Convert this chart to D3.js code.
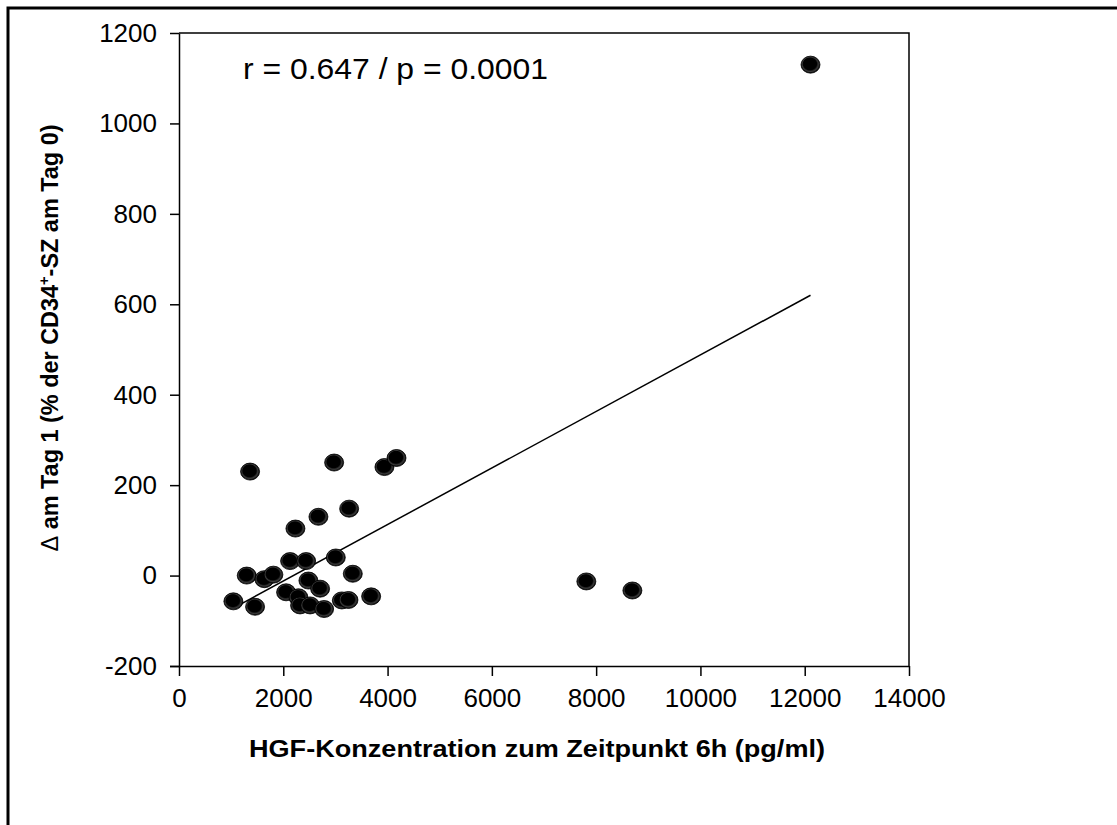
<!DOCTYPE html>
<html>
<head>
<meta charset="utf-8">
<script src="https://cdn.jsdelivr.net/npm/d3@7"></script>
<style>
  body { margin: 0; background: #fff; }
  svg text { font-family: "Liberation Sans", Arial, sans-serif; fill: #000; }
  .axis path, .axis line { stroke: #000; stroke-width: 1.5px; }
  .axis text { font-size: 26px; font-family: "Liberation Sans", Arial, sans-serif; }
</style>
</head>
<body>
<div id="chart"></div>
<script>
// values
const hgf = [1363, 2975, 3940, 4171, 3263, 2674, 2233, 2131, 2438, 3007,
  1299, 1637, 1810, 3333, 2482, 1043, 1459, 2054, 2706, 2290,
  2322, 2514, 2783, 3123, 3250, 3685, 7812, 8695, 12111];
const delta = [230, 250, 240, 260, 148, 130, 104, 32, 32, 40,
  0, -8, 2, 4, -11, -57, -69, -37, -29, -48,
  -66, -66, -74, -55, -54, -46, -13, -33, 1130];

// regression line end points
const fitX = [1043, 12111];
const fitY = [-72, 620];

const xTicks = [0, 2000, 4000, 6000, 8000, 10000, 12000, 14000];
const yTicks = [-200, 0, 200, 400, 600, 800, 1000, 1200];

const statText = "r = 0.647 / p = 0.0001";

const svgWidth = 1117;
const svgHeight = 825;
const margin = { top: 33, right: 208, bottom: 159, left: 179 };
const width = svgWidth - margin.left - margin.right;
const height = svgHeight - margin.top - margin.bottom;

const svg = d3.select("#chart")
  .append("svg")
  .attr("width", svgWidth)
  .attr("height", svgHeight);

svg.append("rect").attr("width", svgWidth).attr("height", svgHeight).attr("fill", "#fff");

// outer frame (top + left only)
svg.append("path")
  .attr("d", `M8,${svgHeight} L8,8 L${svgWidth},8`)
  .attr("fill", "none")
  .attr("stroke", "#000")
  .attr("stroke-width", 3);

const defs = svg.append("defs");
const grad = defs.append("radialGradient")
  .attr("id", "dot")
  .attr("cx", "50%").attr("cy", "50%").attr("r", "50%")
  .attr("fx", "40%").attr("fy", "35%");
grad.append("stop").attr("offset", "0%").attr("stop-color", "#000");
grad.append("stop").attr("offset", "70%").attr("stop-color", "#000");
grad.append("stop").attr("offset", "85%").attr("stop-color", "#3a3a3a");
grad.append("stop").attr("offset", "100%").attr("stop-color", "#000");

const chartGroup = svg.append("g")
  .attr("transform", `translate(${margin.left}, ${margin.top})`);

const x = d3.scaleLinear().domain([0, 14000]).range([0, width]);
const y = d3.scaleLinear().domain([-200, 1200]).range([height, 0]);

// plot box top + right
chartGroup.append("path")
  .attr("d", `M0,0 L${width},0 L${width},${height}`)
  .attr("fill", "none")
  .attr("stroke", "#000")
  .attr("stroke-width", 1.5);

const xAxis = chartGroup.append("g")
  .classed("axis", true)
  .attr("transform", `translate(0, ${height})`)
  .call(d3.axisBottom(x).tickValues(xTicks).tickSize(10).tickSizeOuter(0).tickPadding(13).tickFormat(d => String(d)));

const yAxis = chartGroup.append("g")
  .classed("axis", true)
  .call(d3.axisLeft(y).tickValues(yTicks).tickSize(9).tickSizeOuter(0).tickPadding(13).tickFormat(d => String(d)));

// extend x axis line left to meet the -200 tick
xAxis.select(".domain").attr("d", `M-9,0.5H${width}`);

// regression line
chartGroup.append("line")
  .attr("x1", x(fitX[0])).attr("y1", y(fitY[0]))
  .attr("x2", x(fitX[1])).attr("y2", y(fitY[1]))
  .attr("stroke", "#000")
  .attr("stroke-width", 1.5);

// points
chartGroup.selectAll(".pt")
  .data(hgf.map((d, i) => ({ hgf: d, delta: delta[i] })))
  .enter()
  .append("ellipse")
  .classed("pt", true)
  .attr("cx", d => x(d.hgf))
  .attr("cy", d => y(d.delta))
  .attr("rx", 9.5)
  .attr("ry", 8.5)
  .attr("fill", "url(#dot)")
  .attr("stroke", "#000")
  .attr("stroke-width", 0.8);

// stats text
chartGroup.append("text")
  .attr("x", 64)
  .attr("y", 46)
  .attr("font-size", 30)
  .attr("textLength", 305)
  .attr("lengthAdjust", "spacingAndGlyphs")
  .text(statText);

// x title
svg.append("text")
  .attr("x", 537)
  .attr("y", 757)
  .attr("text-anchor", "middle")
  .attr("font-size", 24)
  .attr("font-weight", "bold")
  .attr("textLength", 576)
  .attr("lengthAdjust", "spacingAndGlyphs")
  .text("HGF-Konzentration zum Zeitpunkt 6h (pg/ml)");

// y title
const yTitle = svg.append("text")
  .attr("transform", "translate(58, 338) rotate(-90)")
  .attr("text-anchor", "middle")
  .attr("font-size", 24)
  .attr("font-weight", "bold")
  .attr("textLength", 427)
  .attr("lengthAdjust", "spacingAndGlyphs");
yTitle.append("tspan").attr("font-weight", "normal").text("\u0394");
yTitle.append("tspan").text(" am Tag 1 (% der CD34");
yTitle.append("tspan").attr("font-size", 15).attr("dy", -9).text("+");
yTitle.append("tspan").attr("dy", 9).text("-SZ am Tag 0)");
</script>
</body>
</html>
